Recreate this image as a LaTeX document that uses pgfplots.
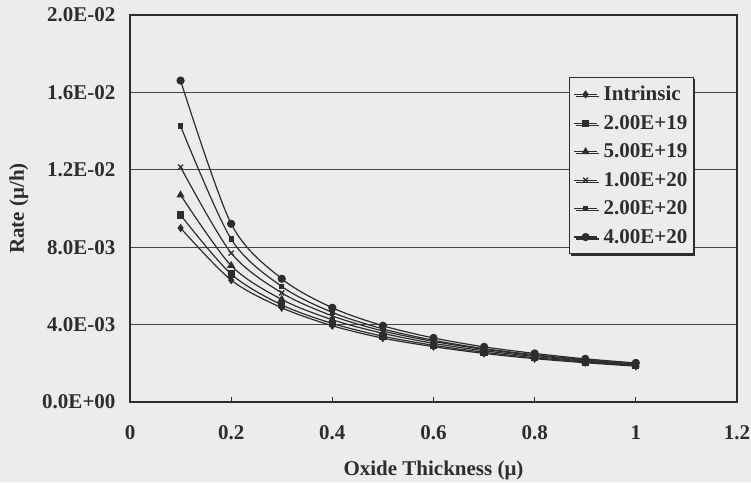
\documentclass[border=0pt]{standalone}
\usepackage{pgfplots}
\pgfplotsset{compat=1.18}
\usepackage{pgfplotstable}
\usepackage{fontspec}
\setmainfont{Liberation Serif}
\usetikzlibrary{shadows}

\definecolor{paper}{RGB}{236,236,236}
\definecolor{ink}{RGB}{45,45,45}
\definecolor{rulegray}{RGB}{70,70,70}

% Oxidation rate vs. oxide thickness for several doping levels
\pgfplotstableread{
x    intr     d2e19    d5e19    d1e20    d2e20    d4e20
0.1  0.00899  0.00966  0.01070  0.01214  0.01426  0.01661
0.2  0.00630  0.00661  0.00705  0.00770  0.00842  0.00921
0.3  0.00487  0.00502  0.00530  0.00564  0.00597  0.00637
0.4  0.00394  0.00406  0.00425  0.00445  0.00463  0.00487
0.5  0.00330  0.00340  0.00355  0.00367  0.00378  0.00394
0.6  0.00286  0.00293  0.00303  0.00313  0.00319  0.00331
0.7  0.00251  0.00257  0.00265  0.00272  0.00276  0.00285
0.8  0.00224  0.00229  0.00235  0.00241  0.00244  0.00251
0.9  0.00203  0.00207  0.00211  0.00216  0.00218  0.00223
1.0  0.00185  0.00189  0.00192  0.00196  0.00197  0.00202
}\ratedata

\newcommand{\lbl}{\bfseries\fontsize{21}{25}\selectfont}

\begin{document}
\begin{tikzpicture}
\fill[paper] (0,0) rectangle (751pt,482pt);
\path[use as bounding box] (0,0) rectangle (751pt,482pt);
\begin{axis}[
  at={(130pt,80pt)}, anchor=south west,
  scale only axis, width=607pt, height=387pt,
  xmin=0, xmax=1.2, ymin=0, ymax=0.02,
  xtick={0,0.2,0.4,0.6,0.8,1,1.2},
  xticklabels={0,0.2,0.4,0.6,0.8,1,1.2},
  ytick={0,0.004,0.008,0.012,0.016,0.02},
  yticklabels={0.0E+00,4.0E-03,8.0E-03,1.2E-02,1.6E-02,2.0E-02},
  scaled y ticks=false,
  axis line style={ink, line width=1.1pt},
  ymajorgrids=true, xmajorgrids=false,
  major grid style={rulegray, line width=0.9pt},
  xtick pos=bottom, ytick pos=left,
  tick align=inside, major tick length=5pt,
  tick style={ink, line width=0.9pt},
  ytick style={draw=none},
  tick label style={font=\lbl, text=ink},
  xticklabel style={yshift=-20pt},
  yticklabel style={xshift=-11pt},
  xlabel={Oxide Thickness (μ)},
  ylabel={Rate (μ/h)},
  label style={font=\lbl, text=ink},
  xlabel style={at={(axis description cs:0.5,0)}, anchor=center, yshift=-68pt},
  ylabel style={at={(axis description cs:-0.183,0.5)}, anchor=center},
  every axis plot/.append style={ink, line width=1.2pt, smooth, tension=0.5,
    mark options={solid, fill=ink}},
  legend style={at={(0.929,0.84)}, anchor=north east,
    draw=ink, line width=1pt, fill=paper,
    drop shadow={shadow xshift=2pt, shadow yshift=-2pt, fill=ink, opacity=1},
    font=\lbl, text=ink,
    inner xsep=4pt, inner ysep=7pt, row sep=9pt, column sep=4pt,
    nodes={inner sep=2pt, font=\lbl, text=ink}},
  legend cell align=left,
  legend image code/.code={
    \draw[mark repeat=2, mark phase=2]
      plot coordinates {(0pt,0pt) (11.5pt,0pt) (23pt,0pt)};},
]
\addplot[mark=diamond*, mark size=3.2pt] table[x=x, y=intr] {\ratedata};
\addlegendentry{Intrinsic}
\addplot[mark=square*, mark size=3pt] table[x=x, y=d2e19] {\ratedata};
\addlegendentry{2.00E+19}
\addplot[mark=triangle*, mark size=3.5pt] table[x=x, y=d5e19] {\ratedata};
\addlegendentry{5.00E+19}
\addplot[mark=x, mark size=3.5pt, mark options={line width=1.3pt}] table[x=x, y=d1e20] {\ratedata};
\addlegendentry{1.00E+20}
\addplot[mark=square*, mark size=2pt] table[x=x, y=d2e20] {\ratedata};
\addlegendentry{2.00E+20}
\addplot[mark=*, mark size=3.5pt] table[x=x, y=d4e20] {\ratedata};
\addlegendentry{4.00E+20}
\end{axis}
\end{tikzpicture}
\end{document}
